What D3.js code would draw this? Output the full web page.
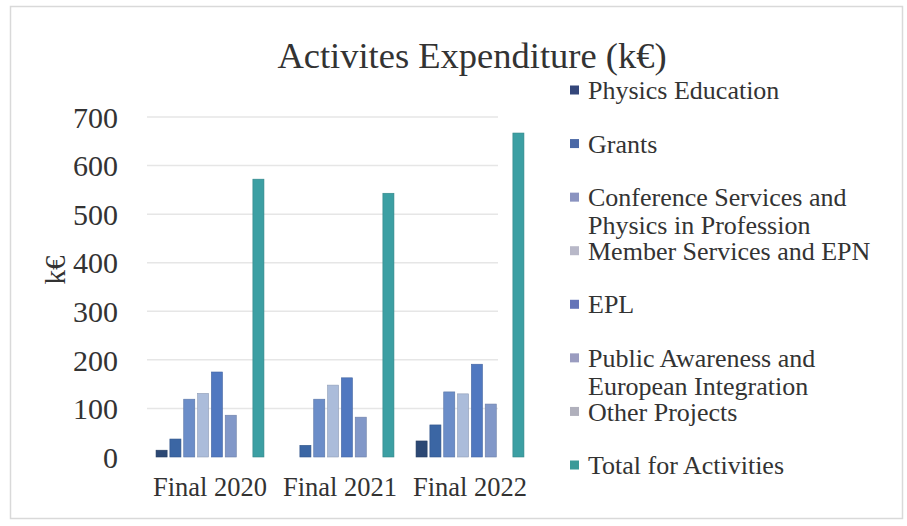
<!DOCTYPE html>
<html><head><meta charset="utf-8">
<script src="https://cdn.jsdelivr.net/npm/d3@7"></script>
<style>html,body{margin:0;padding:0;background:#fff;}svg{display:block;}</style>
</head><body>
<script>
const categories = ["Final 2020", "Final 2021", "Final 2022"];
const seriesNames = ["Physics Education", "Grants", "Conference Services and Physics in Profession", "Member Services and EPN", "EPL", "Public Awareness and European Integration", "Other Projects", "Total for Activities"];
const legendLines = [["Physics Education"], ["Grants"], ["Conference Services and", "Physics in Profession"], ["Member Services and EPN"], ["EPL"], ["Public Awareness and", "European Integration"], ["Other Projects"], ["Total for Activities"]];
const physicsEducation = [14, 0, 33];
const grants = [37, 24, 66];
const conference = [119, 119, 134];
const memberServices = [131, 148, 130];
const epl = [175, 163, 191];
const publicAwareness = [86, 82, 109];
const otherProjects = [0, 0, 0];
const totalActivities = [572, 543, 667];
const yTicks = [0, 100, 200, 300, 400, 500, 600, 700];
const colors = ["#2c4874", "#3b66a4", "#6b8dc8", "#abbcda", "#5078c0", "#8298c8", "#b4bac8", "#3c9fa3"];
const legendColors = ["#34467a", "#4a68a6", "#8a93c0", "#b8b8c8", "#6474b8", "#9a9cc0", "#b0b0bc", "#3a9a98"];
const seriesValues = [physicsEducation, grants, conference, memberServices, epl, publicAwareness, otherProjects, totalActivities];

const W = 907, H = 526;
const font = "'Liberation Serif', 'Times New Roman', serif";
const svg = d3.select("body").append("svg").attr("width", W).attr("height", H);
svg.append("rect").attr("width", W).attr("height", H).attr("fill", "#fff");
svg.append("rect").attr("x", 10.5).attr("y", 6.5).attr("width", 892).attr("height", 512)
  .attr("fill", "none").attr("stroke", "#d9d9d9").attr("stroke-width", 1.5);

const y = d3.scaleLinear().domain([0, 700]).range([457, 117]);
const x0 = d3.scaleBand().domain(categories).range([145, 535]).paddingInner(0.17).paddingOuter(0.085);
const x1 = d3.scaleBand().domain(seriesNames).range([0, x0.bandwidth()]).paddingInner(0.2);

// gridlines
svg.append("g").selectAll("line").data(yTicks.filter(d => d > 0)).join("line")
  .attr("x1", 147).attr("x2", 498).attr("y1", d => y(d)).attr("y2", d => y(d))
  .attr("stroke", "#e6e6e6").attr("stroke-width", 1.5);

// y axis labels
const yAxis = d3.axisLeft(y).tickValues(yTicks).tickSize(0).tickPadding(0);
const gy = svg.append("g").attr("transform", "translate(118,0)").call(yAxis);
gy.select(".domain").remove();
gy.selectAll("text").attr("font-family", font).attr("font-size", 30).attr("fill", "#333").attr("dy", "0.34em");

// x labels
const xAxis = d3.axisBottom(x0).tickSize(0).tickPadding(0);
const gx = svg.append("g").attr("transform", "translate(0,477)").call(xAxis);
gx.select(".domain").remove();
gx.selectAll("text").attr("font-family", font).attr("font-size", 26.5).attr("fill", "#333").attr("dy", "0.7em");

// bars
const groups = svg.append("g").selectAll("g").data(categories).join("g")
  .attr("transform", d => `translate(${x0(d)},0)`);
groups.selectAll("rect").data((c, ci) => seriesNames.map((s, si) => ({s, si, v: seriesValues[si][ci]})).filter(d => d.v > 0))
  .join("rect")
  .attr("x", d => x1(d.s)).attr("width", x1.bandwidth())
  .attr("y", d => y(d.v)).attr("height", d => y(0) - y(d.v))
  .attr("fill", d => colors[d.si])
  .attr("stroke", d => d3.color(colors[d.si]).darker(0.5)).attr("stroke-width", 0.6);

// title
svg.append("text").attr("x", 472).attr("y", 55).attr("dy", "0.35em").attr("text-anchor", "middle")
  .attr("font-family", font).attr("font-size", 36.5).attr("fill", "#333").text("Activites Expenditure (k€)");

// y title
svg.append("text").attr("transform", "translate(55,270) rotate(-90)").attr("dy", "0.35em").attr("text-anchor", "middle")
  .attr("font-family", font).attr("font-size", 29).attr("fill", "#333").text("k€");

// legend
const leg = svg.append("g");
const ly = d3.scalePoint().domain(seriesNames).range([90, 465]);
seriesNames.forEach((s, i) => {
  const cy = ly(s);
  leg.append("rect").attr("x", 570).attr("y", cy - 4.5).attr("width", 9).attr("height", 9).attr("fill", legendColors[i]);
  const t = leg.append("text").attr("x", 588).attr("y", cy)
    .attr("font-family", font).attr("font-size", 26).attr("fill", "#333");
  legendLines[i].forEach((ln, j) => {
    t.append("tspan").attr("x", 588).attr("dy", j === 0 ? "0.35em" : 28).text(ln);
  });
});
</script>
</body></html>
